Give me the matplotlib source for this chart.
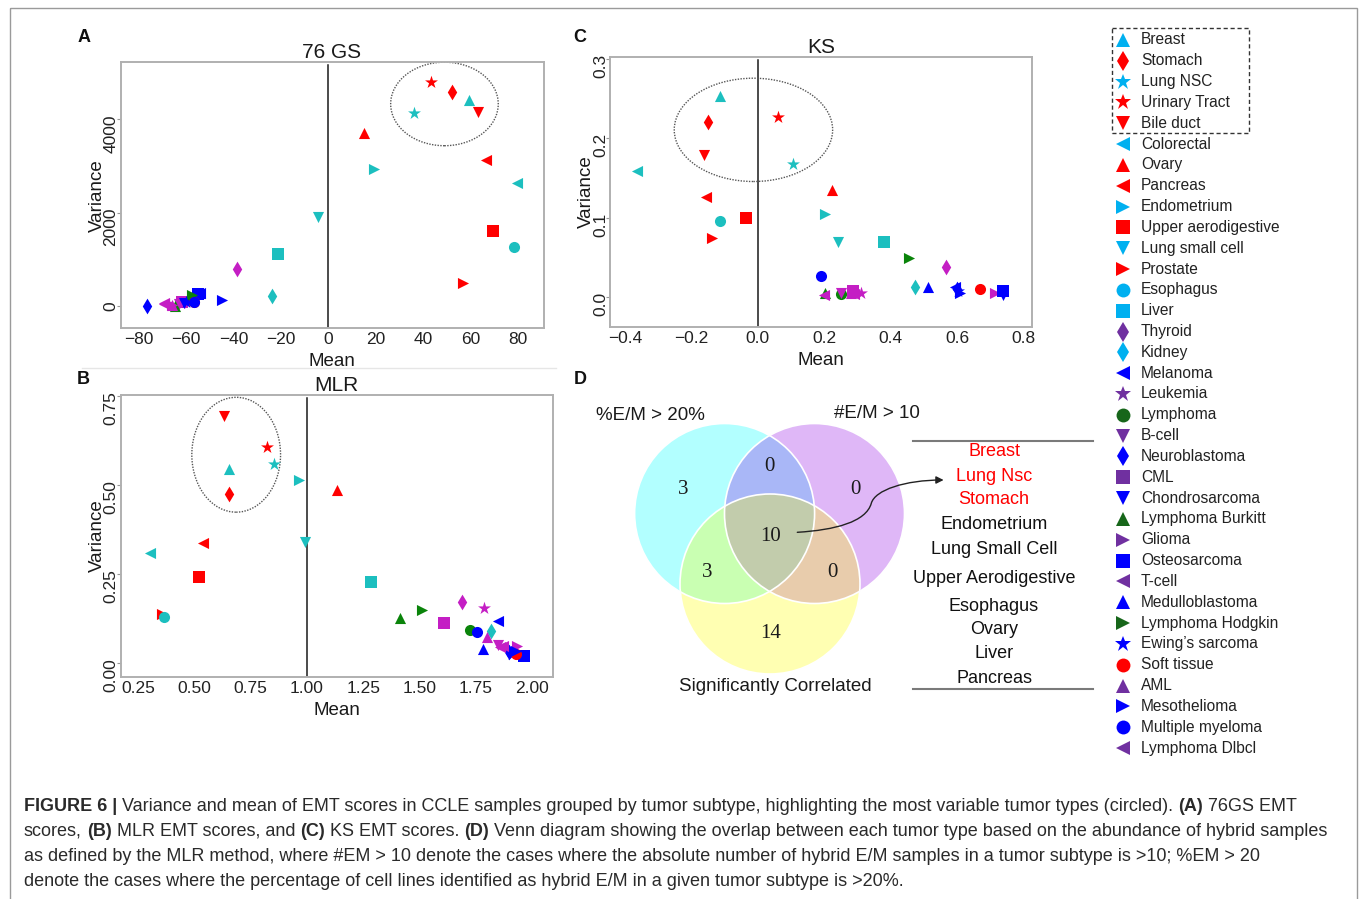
import matplotlib
matplotlib.use("Agg")
import matplotlib.pyplot as plt
from matplotlib import font_manager, transforms
from matplotlib.patches import Ellipse, Circle, Rectangle, FancyArrowPatch
from matplotlib.path import Path

W, H = 1360, 899

names = {f.name for f in font_manager.fontManager.ttflist}
NARROW = "Liberation Sans Narrow" if "Liberation Sans Narrow" in names else "Liberation Sans"
SANS = "Liberation Sans"
SERIF = "Liberation Serif"
plt.rcParams["font.family"] = [SANS, "DejaVu Sans"]

# tumor types, as in the legend
TYPES = ["Breast", "Stomach", "Lung NSC", "Urinary Tract", "Bile duct", "Colorectal",
         "Ovary", "Pancreas", "Endometrium", "Upper aerodigestive", "Lung small cell",
         "Prostate", "Esophagus", "Liver", "Thyroid", "Kidney", "Melanoma", "Leukemia",
         "Lymphoma", "B-cell", "Neuroblastoma", "CML", "Chondrosarcoma",
         "Lymphoma Burkitt", "Glioma", "Osteosarcoma", "T-cell", "Medulloblastoma",
         "Lymphoma Hodgkin", "Ewing\u2019s sarcoma", "Soft tissue", "AML",
         "Mesothelioma", "Multiple myeloma", "Lymphoma Dlbcl"]
GROUPS = ["cyan", "red", "cyan", "red", "red", "cyan", "red", "red", "cyan", "red",
          "cyan", "red", "cyan", "cyan", "purple", "cyan", "blue", "purple", "green",
          "purple", "blue", "purple", "blue", "green", "purple", "blue", "purple",
          "blue", "green", "blue", "red", "purple", "blue", "blue", "purple"]
MARKERS = ["^", "d", "*", "*", "v", "<", "^", "<", ">", "s", "v", ">", "o", "s", "d",
           "d", "<", "*", "o", "v", "d", "s", "v", "^", ">", "s", "<", "^", ">", "*",
           "o", "^", ">", "o", "<"]

# panel A: 76 GS
A_MEAN = [59.4, 51.9, 36.1, 43.2, 63.2, 79.3, 15.0, 66.2, 19.2, 69.5, -4.5, 56.8, 78.3,
          -21.3, -38.6, -23.6, -53.9, -62.0, -58.0, -63.0, -76.5, -61.6, -60.9, -64.4,
          -66.0, -55.0, -69.3, -54.0, -57.4, -60.0, -56.7, -66.0, -44.8, -56.7, -69.0]
A_VAR = [4414, 4593, 4143, 4807, 4164, 2629, 3714, 3129, 2936, 1614, 1900, 500, 1257,
         1114, 793, 214, 272, 60, 120, 40, 6, 92, 57, 0, 30, 250, 57, 280, 236, 80, 92,
         20, 129, 92, 40]
# panel B: MLR
B_MEAN = [0.654, 0.651, 0.855, 0.823, 0.632, 0.301, 1.132, 0.539, 0.964, 0.521, 0.991,
          0.353, 0.365, 1.285, 1.691, 1.818, 1.849, 1.789, 1.726, 1.849, 1.900, 1.611,
          1.896, 1.414, 1.933, 1.966, 1.874, 1.785, 1.510, 1.911, 1.929, 1.800, 1.930,
          1.758, 1.860]
B_VAR = [0.545, 0.477, 0.559, 0.607, 0.695, 0.311, 0.487, 0.338, 0.515, 0.241, 0.341,
         0.137, 0.129, 0.229, 0.171, 0.090, 0.118, 0.156, 0.093, 0.050, 0.030, 0.114,
         0.032, 0.126, 0.047, 0.020, 0.047, 0.041, 0.149, 0.027, 0.027, 0.074, 0.035,
         0.088, 0.045]
# panel C: KS
C_MEAN = [-0.113, -0.151, 0.107, 0.062, -0.161, -0.364, 0.225, -0.156, 0.203, -0.036,
          0.241, -0.139, -0.113, 0.379, 0.566, 0.474, 0.594, 0.311, 0.250, 0.250, 0.600,
          0.288, 0.740, 0.201, 0.715, 0.740, 0.290, 0.514, 0.456, 0.604, 0.668, 0.280,
          0.610, 0.191, 0.200]
C_VAR = [0.253, 0.221, 0.168, 0.227, 0.179, 0.159, 0.135, 0.126, 0.105, 0.0995, 0.070,
         0.074, 0.096, 0.069, 0.038, 0.013, 0.013, 0.006, 0.004, 0.006, 0.010, 0.008,
         0.003, 0.005, 0.006, 0.008, 0.004, 0.013, 0.049, 0.008, 0.011, 0.005, 0.006,
         0.027, 0.003]

# panel D: venn counts and the list of the 10 shared types
VENN_SETS = ["%E/M > 20%", "#E/M > 10", "Significantly Correlated"]
VENN_COUNTS = {"100": 3, "010": 0, "110": 0, "111": 10, "101": 3, "011": 0, "001": 14}
SHARED = ["Breast", "Lung Nsc", "Stomach", "Endometrium", "Lung Small Cell",
          "Upper Aerodigestive", "Esophagus", "Ovary", "Liver", "Pancreas"]
SHARED_HIGHLIGHT = ["Breast", "Lung Nsc", "Stomach"]

PLOT_COLORS = {"cyan": "#1cbfbf", "red": "#ff0000", "purple": "#c41ec4",
               "blue": "#0000ff", "green": "#0a840a"}
LEGEND_COLORS = {"cyan": "#00b0f0", "red": "#ff0000", "purple": "#7030a0",
                 "blue": "#0000ff", "green": "#17661a"}

fig = plt.figure(figsize=(W / 100, H / 100), dpi=100)

# overlay in pixel coordinates for the frame, legend, venn and caption
ov = fig.add_axes([0, 0, 1, 1])
ov.set_xlim(0, W)
ov.set_ylim(H, 0)
ov.axis("off")
ov.add_patch(Rectangle((10, 8), 1347, 905, fill=False, ec="#9a9a9a", lw=1))
ov.plot([82, 556], [368, 368], color="#e6e6e6", lw=1)


def px_axes(l, t, r, b):
    return fig.add_axes([l / W, 1 - b / H, (r - l) / W, (b - t) / H])


def scatter_panel(ax, xs, ys, title, xlim, ylim, xticks, xlabels, yticks, ylabels,
                  vline, ell):
    for x, y, g, m in zip(xs, ys, GROUPS, MARKERS):
        s = 95 if m == "*" else 64
        ax.scatter(x, y, marker=m, s=s, color=PLOT_COLORS[g], linewidths=0, zorder=3)
    ax.axvline(vline, ymin=0, ymax=0.99, color="#1a1a1a", lw=1.1, zorder=2)
    ax.add_patch(Ellipse(ell[0], ell[1], ell[2], fill=False, ec="#555555", lw=1,
                         ls=(0, (1, 1)), zorder=2))
    ax.set_xlim(*xlim)
    ax.set_ylim(*ylim)
    ax.set_xticks(xticks)
    ax.set_xticklabels(xlabels, fontfamily=NARROW, fontsize=12.5, color="#222222")
    ax.set_yticks(yticks)
    ax.set_yticklabels([])
    ax.tick_params(axis="x", length=0, pad=3)
    ax.tick_params(axis="y", length=3, width=0.8, color="#999999", pad=0)
    for sp in ax.spines.values():
        sp.set_color("#b0b0b0")
        sp.set_linewidth(1.4)
    tr = transforms.blended_transform_factory(ax.transAxes, ax.transData)
    tr = transforms.offset_copy(tr, fig=fig, x=-2, y=5, units="dots")
    for v, s in zip(yticks, ylabels):
        ax.text(0, v, s, transform=tr, rotation=90, ha="right", va="top",
                fontfamily=NARROW, fontsize=12.5, color="#222222")
    h = ax.get_position().height * H
    w = ax.get_position().width * W
    ax.text(0.5, 1 + 4.2 / h, title, transform=ax.transAxes, ha="center",
            va="baseline", fontfamily=NARROW, fontsize=15, color="#1a1a1a")
    ax.text(0.5, -38 / h, "Mean", transform=ax.transAxes, ha="center",
            va="baseline", fontfamily=NARROW, fontsize=13.5, color="#1a1a1a")
    ax.text(-15 / w, 0.5, "Variance", transform=ax.transAxes, ha="right",
            va="center", rotation=90, fontfamily=NARROW, fontsize=13.5,
            color="#1a1a1a")


axA = px_axes(120.5, 62, 543.5, 328.3)
scatter_panel(axA, A_MEAN, A_VAR, "76 GS", (-87.5, 90.6), (-478, 5228),
              [-80, -60, -40, -20, 0, 20, 40, 60, 80],
              ["\u221280", "\u221260", "\u221240", "\u221220", "0", "20", "40", "60", "80"],
              [0, 2000, 4000], ["0", "2000", "4000"], 0, ((48.9, 4329), 45.3, 1790))

axB = px_axes(120.7, 395, 553, 677)
scatter_panel(axB, B_MEAN, B_VAR, "MLR", (0.171, 2.095), (-0.039, 0.754),
              [0.25, 0.5, 0.75, 1.0, 1.25, 1.5, 1.75, 2.0],
              ["0.25", "0.50", "0.75", "1.00", "1.25", "1.50", "1.75", "2.00"],
              [0, 0.25, 0.5, 0.75], ["0.00", "0.25", "0.50", "0.75"], 1.0,
              ((0.685, 0.586), 0.395, 0.323))

axC = px_axes(610, 57.3, 1031.7, 326.7)
scatter_panel(axC, C_MEAN, C_VAR, "KS", (-0.445, 0.825), (-0.037, 0.302),
              [-0.4, -0.2, 0, 0.2, 0.4, 0.6, 0.8],
              ["\u22120.4", "\u22120.2", "0.0", "0.2", "0.4", "0.6", "0.8"],
              [0, 0.1, 0.2, 0.3], ["0.0", "0.1", "0.2", "0.3"], 0.0,
              ((-0.013, 0.2107), 0.477, 0.130))

# panel letters
for lab, (x, y) in zip("ABCD", [(84, 38), (83, 380), (580, 38), (580, 380)]):
    ov.text(x, y, lab, ha="center", va="center", fontsize=13, fontweight="bold",
            color="#111111")

# legend
y0, y1 = 40, 748
step = (y1 - y0) / (len(TYPES) - 1)
for i, (name, g, m) in enumerate(zip(TYPES, GROUPS, MARKERS)):
    y = y0 + i * step
    ms = 12 if m == "*" else 10
    ov.plot(1123, y, marker=m, ms=ms, color=LEGEND_COLORS[g], ls="", mew=0)
    ov.text(1141, y, name, ha="left", va="center", fontsize=11.2, color="#222222")
ov.add_patch(Rectangle((1112.3, 27.7), 136.7, 105.6, fill=False, ec="#333333",
                       lw=1, ls=(0, (3, 2))))

# venn diagram
R = 90
centers = [(724.6, 513.5), (814.5, 513.5), (770.0, 584.0)]
fills = [(0.0, 1.0, 1.0), (0.59, 0.07, 0.9), (1.0, 1.0, 0.0)]
for c, f in zip(centers, fills):
    ov.add_patch(Circle(c, R, fc=f, ec="none", alpha=0.3))
for c in centers:
    ov.add_patch(Circle(c, R, fill=False, ec="white", lw=1.2))

count_pos = {"100": (683.6, 489.3), "010": (855.1, 489.3), "110": (769.7, 466.7),
             "111": (770.8, 536.7), "101": (706.7, 572.3), "011": (832.4, 572.3),
             "001": (770.8, 633.3)}
for key, n in VENN_COUNTS.items():
    x, y = count_pos[key]
    ov.text(x, y, str(n), ha="center", va="center", fontfamily=SERIF, fontsize=15,
            color="#1a1a1a")

for s, (x, y) in zip(VENN_SETS, [(650.2, 415), (876.5, 413.3), (774.9, 686.7)]):
    ov.text(x, y, s, ha="center", va="center", fontsize=13.5, color="#1a1a1a")

ov.plot([913, 1093], [441, 441], color="#7a7a7a", lw=1.5)
ov.plot([913, 1093], [688.5, 688.5], color="#7a7a7a", lw=1.5)
list_y = [451.7, 476.7, 500, 524.3, 549, 578.3, 606.7, 630, 653.3, 678.3]
for name, y in zip(SHARED, list_y):
    col = "#ff0000" if name in SHARED_HIGHLIGHT else "#111111"
    ov.text(994, y, name, ha="center", va="center", fontsize=13, color=col)

verts = [(797.3, 532.3), (835, 530), (866, 522), (871.3, 503.3),
         (875, 490), (905, 480), (943.6, 480)]
codes = [Path.MOVETO] + [Path.CURVE4] * 6
ov.add_patch(FancyArrowPatch(path=Path(verts, codes), arrowstyle="-|>",
                             mutation_scale=11, lw=1, color="#222222"))

# caption
CAPTION = [
    [("FIGURE 6 |", True), ("Variance and mean of EMT scores in CCLE samples grouped by "
                            "tumor subtype, highlighting the most variable tumor types "
                            "(circled).", False), ("(A)", True), ("76GS EMT", False)],
    [("scores,", False), ("(B)", True), ("MLR EMT scores, and", False), ("(C)", True),
     ("KS EMT scores.", False), ("(D)", True),
     ("Venn diagram showing the overlap between each tumor type based on the abundance "
      "of hybrid samples", False)],
    [("as defined by the MLR method, where #EM > 10 denote the cases where the absolute "
      "number of hybrid E/M samples in a tumor subtype is >10; %EM > 20", False)],
    [("denote the cases where the percentage of cell lines identified as hybrid E/M in "
      "a given tumor subtype is >20%.", False)],
]
CAP_BASE = [811, 836, 861, 886]

renderer = fig.canvas.get_renderer()


def text_width(s, size, bold):
    t = ov.text(0, 0, s, fontsize=size, fontfamily=NARROW,
                fontweight="bold" if bold else "normal")
    w = t.get_window_extent(renderer=renderer).width
    t.remove()
    return w


def line_width(parts, size):
    sp = text_width("x x", size, False) - text_width("xx", size, False)
    return sum(text_width(s, size, b) for s, b in parts) + sp * (len(parts) - 1)


cap_size = 12 * (1302 - 24) / line_width(CAPTION[0], 12)
space = text_width("x x", cap_size, False) - text_width("xx", cap_size, False)
for parts, yb in zip(CAPTION, CAP_BASE):
    x = 24
    for s, b in parts:
        ov.text(x, yb, s, fontsize=cap_size, fontfamily=NARROW, ha="left",
                va="baseline", fontweight="bold" if b else "normal", color="#2a2a2a")
        x += text_width(s, cap_size, b) + space

fig.savefig("out.png", dpi=100)
